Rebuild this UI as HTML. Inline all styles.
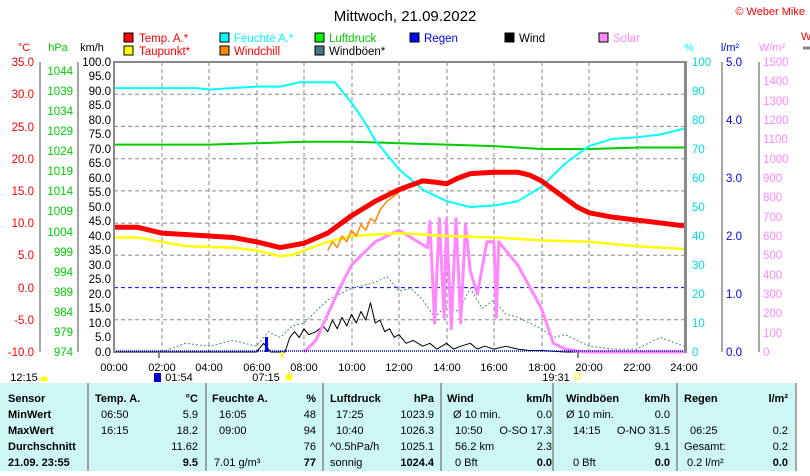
<!DOCTYPE html>
<html><head><meta charset="utf-8"><style>
body{margin:0;background:#fff;width:810px;height:471px;overflow:hidden;font-family:"Liberation Sans",sans-serif}
svg text{font-family:"Liberation Sans",sans-serif}
</style></head><body>
<svg width="810" height="471" viewBox="0 0 810 471" xmlns="http://www.w3.org/2000/svg">
<text x="405" y="21" font-size="15" text-anchor="middle">Mittwoch, 21.09.2022</text>
<text x="805" y="15" font-size="11" fill="#f00" text-anchor="end">© Weber Mike</text>
<g font-size="11.5">
<rect x="124" y="33" width="9" height="9" fill="#f00" stroke="#000"/><text x="139" y="42" fill="#f00">Temp. A.*</text>
<rect x="220" y="33" width="9" height="9" fill="#0ff" stroke="#000"/><text x="234" y="42" fill="#0ff">Feuchte A.*</text>
<rect x="315" y="33" width="9" height="9" fill="#0f0" stroke="#000"/><text x="329" y="42" fill="#0c0">Luftdruck</text>
<rect x="410" y="33" width="9" height="9" fill="#00f" stroke="#000"/><text x="424" y="42" fill="#00f">Regen</text>
<rect x="505" y="33" width="9" height="9" fill="#000" stroke="#000"/><text x="519" y="42" fill="#000">Wind</text>
<rect x="599" y="33" width="9" height="9" fill="#f8f" stroke="#000"/><text x="613" y="42" fill="#f8f">Solar</text>
<rect x="124" y="46" width="9" height="9" fill="#ff0" stroke="#000"/><text x="139" y="55" fill="#f00">Taupunkt*</text>
<rect x="220" y="46" width="9" height="9" fill="#f80" stroke="#000"/><text x="234" y="55" fill="#f00">Windchill</text>
<rect x="315" y="46" width="9" height="9" fill="#478" stroke="#000"/><text x="329" y="55" fill="#000">Windböen*</text>
</g>
<g font-size="11">
<text x="24" y="51" fill="#f00" text-anchor="middle">°C</text>
<text x="58" y="51" fill="#0c0" text-anchor="middle">hPa</text>
<text x="92" y="51" fill="#000" text-anchor="middle">km/h</text>
<text x="689" y="51" fill="#0ff" text-anchor="middle">%</text>
<text x="730" y="51" fill="#00f" text-anchor="middle">l/m²</text>
<text x="772" y="51" fill="#f8f" text-anchor="middle">W/m²</text>
<text x="801" y="40" fill="#f00">W</text>
</g>
<g stroke="#888" stroke-width="1.5">
<line x1="40" y1="62" x2="40" y2="352"/><line x1="78" y1="62" x2="78" y2="352"/>
<line x1="722" y1="62" x2="722" y2="352"/><line x1="759" y1="62" x2="759" y2="352"/>
<line x1="803" y1="48" x2="810" y2="48" stroke-width="3"/>
</g>
<g stroke="#888" stroke-dasharray="4,3" stroke-width="1">
<line x1="162" y1="62" x2="162" y2="352"/><line x1="209" y1="62" x2="209" y2="352"/><line x1="257" y1="62" x2="257" y2="352"/><line x1="304" y1="62" x2="304" y2="352"/><line x1="352" y1="62" x2="352" y2="352"/><line x1="399" y1="62" x2="399" y2="352"/><line x1="447" y1="62" x2="447" y2="352"/><line x1="494" y1="62" x2="494" y2="352"/><line x1="542" y1="62" x2="542" y2="352"/><line x1="589" y1="62" x2="589" y2="352"/><line x1="637" y1="62" x2="637" y2="352"/>
<line x1="114" y1="94.2" x2="684" y2="94.2"/><line x1="114" y1="126.4" x2="684" y2="126.4"/><line x1="114" y1="158.7" x2="684" y2="158.7"/><line x1="114" y1="190.9" x2="684" y2="190.9"/><line x1="114" y1="223.1" x2="684" y2="223.1"/><line x1="114" y1="255.3" x2="684" y2="255.3"/><line x1="114" y1="319.8" x2="684" y2="319.8"/>
</g>
<line x1="114" y1="287.6" x2="684" y2="287.6" stroke="#00f" stroke-dasharray="4,3"/>
<g font-size="11.5" text-anchor="end" fill="#f00">
<text x="34" y="66">35.0</text><text x="34" y="98">30.0</text><text x="34" y="131">25.0</text><text x="34" y="163">20.0</text><text x="34" y="195">15.0</text><text x="34" y="227">10.0</text><text x="34" y="259">5.0</text><text x="34" y="292">0.0</text><text x="34" y="324">-5.0</text><text x="34" y="356">-10.0</text>
</g>
<g font-size="11.5" text-anchor="end" fill="#0c0">
<text x="73" y="75">1044</text><text x="73" y="95">1039</text><text x="73" y="115">1034</text><text x="73" y="135">1029</text><text x="73" y="155">1024</text><text x="73" y="195">1014</text><text x="73" y="175">1019</text><text x="73" y="215">1009</text><text x="73" y="236">1004</text><text x="73" y="256">999</text><text x="73" y="276">994</text><text x="73" y="296">989</text><text x="73" y="316">984</text><text x="73" y="336">979</text><text x="73" y="356">974</text>
</g>
<g font-size="11.5" text-anchor="end" fill="#000">
<text x="111" y="66">100.0</text><text x="111" y="80">95.0</text><text x="111" y="95">90.0</text><text x="111" y="109">85.0</text><text x="111" y="124">80.0</text><text x="111" y="138">75.0</text><text x="111" y="153">70.0</text><text x="111" y="167">65.0</text><text x="111" y="182">60.0</text><text x="111" y="196">55.0</text><text x="111" y="211">50.0</text><text x="111" y="225">45.0</text><text x="111" y="240">40.0</text><text x="111" y="254">35.0</text><text x="111" y="269">30.0</text><text x="111" y="283">25.0</text><text x="111" y="298">20.0</text><text x="111" y="312">15.0</text><text x="111" y="327">10.0</text><text x="111" y="341">5.0</text><text x="111" y="356">0.0</text>
</g>
<g font-size="11.5" fill="#0dd">
<text x="692" y="66">100</text><text x="692" y="95">90</text><text x="692" y="124">80</text><text x="692" y="153">70</text><text x="692" y="182">60</text><text x="692" y="211">50</text><text x="692" y="240">40</text><text x="692" y="269">30</text><text x="692" y="298">20</text><text x="692" y="327">10</text><text x="692" y="356">0</text>
</g>
<g font-size="11.5" fill="#00f">
<text x="726" y="66">5.0</text><text x="726" y="124">4.0</text><text x="726" y="182">3.0</text><text x="726" y="240">2.0</text><text x="726" y="298">1.0</text><text x="726" y="356">0.0</text>
</g>
<g font-size="11.5" fill="#f8f">
<text x="763" y="66">1500</text><text x="763" y="85">1400</text><text x="763" y="105">1300</text><text x="763" y="124">1200</text><text x="763" y="143">1100</text><text x="763" y="163">1000</text><text x="763" y="182">900</text><text x="763" y="201">800</text><text x="763" y="221">700</text><text x="763" y="240">600</text><text x="763" y="259">500</text><text x="763" y="279">400</text><text x="763" y="298">300</text><text x="763" y="317">200</text><text x="763" y="337">100</text><text x="763" y="356">0</text>
</g>
<g transform="translate(114,352) scale(23.75,-2.9)" fill="none" stroke-linejoin="round">
<polyline vector-effect="non-scaling-stroke" stroke="#4a8a8a" stroke-width="1" stroke-dasharray="2,2" points="2,0 3,3 4,2 5,4 6,2 6.5,7 7,5 7.5,9 8,10 8.5,14 9,18 9.5,20 10,22 11,24 11.5,26 12,21 12.5,22 13,18 13.5,12 14,16 14.5,14 15,22 15.5,15 16,18 16.5,13 17,12 17.5,10 18,8 18.5,5 19,6 19.5,4 20,2 21,1 22,1 23,5 24,2"/>
<polyline vector-effect="non-scaling-stroke" stroke="#000" stroke-width="1" points="0,0 6,0 6.3,3 6.6,0 7.2,0 7.4,5 7.6,7 7.8,5 8,8 8.2,6 8.5,7 8.8,9 9,7 9.2,11 9.4,8 9.6,12 9.8,9 10,13 10.2,10 10.4,14 10.6,11 10.8,17 11,10 11.2,11 11.4,7 11.6,8 11.8,5 12,6 12.3,3 12.6,4 13,2 13.3,3 13.6,1 14,3 14.3,1 14.6,2 15,3 15.3,1 15.6,2 16,1 16.5,2 17,1 17.5,0.5 18,0.5 19,0 24,0"/>
<polyline vector-effect="non-scaling-stroke" stroke="#0c0" stroke-width="2" points="0,71.5 4,71.5 6,72 8,72.5 10,72.5 12,72 14,71.5 16,71 18,70 20,70 22,70.5 24,70.5"/>
<polyline vector-effect="non-scaling-stroke" stroke="#0ff" stroke-width="2" points="0,91 3.5,91 4,90.5 6,91.5 7,91.5 7.8,93 9.3,93 10,86 10.5,80 11,73 12,63 13,56 14,52 15,50 16,50.5 17,52 18,57 19,65 20,71 21,73.5 22,74 23,75 24,77"/>
<polyline vector-effect="non-scaling-stroke" stroke="#f8f" stroke-width="3" points="8,0 8.5,4 9,13 9.5,22 10,30 11,38 12,42 12.8,38 13.2,36 13.3,45 13.5,10 13.7,46 13.9,12 14,46 14.2,8 14.4,46 14.6,10 14.8,44 15,28 15.3,20 15.7,38 16,38 16.1,12 16.2,38 17,30 18,15 18.5,3 19,1 19.8,0 24,0"/>
<polyline vector-effect="non-scaling-stroke" stroke="#ff0" stroke-width="2.5" points="0,39.5 1,39.5 2,38 3,36.5 5,36 6,35 7,33 7.5,33.5 8,35 9,38 10,40 12,41 13,40.5 14,40 16,39.5 18,38.5 20,38 22,36.5 24,35.5"/>
<polyline vector-effect="non-scaling-stroke" stroke="#f80" stroke-width="1.5" points="9,35 9.2,38 9.4,36 9.6,40 9.8,38 10,42 10.2,40 10.4,44 10.6,42 10.8,46 11,45 11.2,49 11.5,52 12,55"/>
<polyline vector-effect="non-scaling-stroke" stroke="#f00" stroke-width="5" points="0,43 1,43 2,41 3,40.5 4,40 5,39.5 6,38 7,36 8,37.5 9,41 10,47 11,52 12,56 13,59 13.6,58.5 14,58 14.5,60 15,61.5 16,62 17,62 17.5,61 18,59 19,53 19.5,50 20,48 21,46.5 22,45.5 23,44.5 24,43.5"/>
</g>
<line x1="114" y1="351" x2="684" y2="351" stroke="#00f" stroke-dasharray="1,1" stroke-width="1.5"/>
<rect x="265" y="337" width="3" height="15" fill="#00f"/>
<g stroke="#888" fill="none">
<line x1="114" y1="62" x2="686" y2="62" stroke-width="2"/>
<line x1="114" y1="61" x2="114" y2="353" stroke-width="2"/>
<line x1="685.5" y1="61" x2="685.5" y2="353" stroke-width="3"/>
<line x1="159" y1="352" x2="159" y2="358" stroke-width="2"/>
<line x1="282" y1="352" x2="282" y2="358" stroke="#ff0" stroke-width="2"/>
<line x1="578" y1="352" x2="578" y2="358" stroke-width="2"/>
</g>
<g font-size="11" text-anchor="middle">
<text x="114" y="371">00:00</text><text x="162" y="371">02:00</text><text x="209" y="371">04:00</text><text x="257" y="371">06:00</text><text x="304" y="371">08:00</text><text x="352" y="371">10:00</text><text x="399" y="371">12:00</text><text x="447" y="371">14:00</text><text x="494" y="371">16:00</text><text x="542" y="371">18:00</text><text x="589" y="371">20:00</text><text x="637" y="371">22:00</text><text x="684" y="371">24:00</text>
<text x="24" y="381">12:15</text><text x="179" y="381">01:54</text><text x="266" y="381">07:15</text><text x="556" y="381">19:31</text>
</g>
<rect x="154" y="373" width="7" height="9" fill="#00c"/>
<circle cx="289" cy="377" r="3.5" fill="#ff0"/>
<rect x="575" y="374" width="5" height="5" fill="none" stroke="#ff0"/>
<ellipse cx="44" cy="379" rx="4" ry="2.5" fill="#ff0"/>
<rect x="0" y="383" width="795" height="88" fill="#ccf7f5"/>
<g stroke="#888" stroke-width="1.5">
<line x1="88" y1="383" x2="88" y2="471"/><line x1="206" y1="383" x2="206" y2="471"/><line x1="323" y1="383" x2="323" y2="471"/><line x1="441" y1="383" x2="441" y2="471"/><line x1="553" y1="383" x2="553" y2="471"/><line x1="677" y1="383" x2="677" y2="471"/><line x1="796" y1="383" x2="796" y2="471"/>
</g>
<g font-size="11">
<g font-weight="bold">
<text x="8" y="402">Sensor</text><text x="8" y="418">MinWert</text><text x="8" y="434">MaxWert</text><text x="8" y="450">Durchschnitt</text><text x="8" y="466">21.09. 23:55</text>
<text x="95" y="402">Temp. A.</text><text x="212" y="402">Feuchte A.</text><text x="330" y="402">Luftdruck</text><text x="447" y="402">Wind</text><text x="566" y="402">Windböen</text><text x="684" y="402">Regen</text>
<g text-anchor="end"><text x="198" y="402">°C</text><text x="316" y="402">%</text><text x="434" y="402">hPa</text><text x="552" y="402">km/h</text><text x="670" y="402">km/h</text><text x="788" y="402">l/m²</text>
<text x="198" y="466">9.5</text><text x="316" y="466">77</text><text x="434" y="466">1024.4</text><text x="552" y="466">0.0</text><text x="670" y="466">0.0</text><text x="788" y="466">0.0</text></g>
</g>
<text x="101" y="418">06:50</text><text x="101" y="434">16:15</text>
<text x="219" y="418">16:05</text><text x="219" y="434">09:00</text><text x="214" y="466">7.01 g/m³</text>
<text x="336" y="418">17:25</text><text x="336" y="434">10:40</text><text x="330" y="450">^0.5hPa/h</text><text x="330" y="466">sonnig</text>
<text x="453" y="418">Ø 10 min.</text><text x="455" y="434">10:50</text><text x="455" y="450">56.2 km</text><text x="455" y="466">0 Bft</text>
<text x="566" y="418">Ø 10 min.</text><text x="573" y="434">14:15</text><text x="573" y="466">0 Bft</text>
<text x="690" y="434">06:25</text><text x="684" y="450">Gesamt:</text><text x="687" y="466">0.2 l/m²</text>
<g text-anchor="end">
<text x="198" y="418">5.9</text><text x="198" y="434">18.2</text><text x="198" y="450">11.62</text>
<text x="316" y="418">48</text><text x="316" y="434">94</text><text x="316" y="450">76</text>
<text x="434" y="418">1023.9</text><text x="434" y="434">1026.3</text><text x="434" y="450">1025.1</text>
<text x="552" y="418">0.0</text><text x="552" y="434">O-SO 17.3</text><text x="552" y="450">2.3</text>
<text x="670" y="418">0.0</text><text x="670" y="434">O-NO 31.5</text><text x="670" y="450">9.1</text>
<text x="788" y="434">0.2</text><text x="788" y="450">0.2</text>
</g>
</g>
</svg>
</body></html>
